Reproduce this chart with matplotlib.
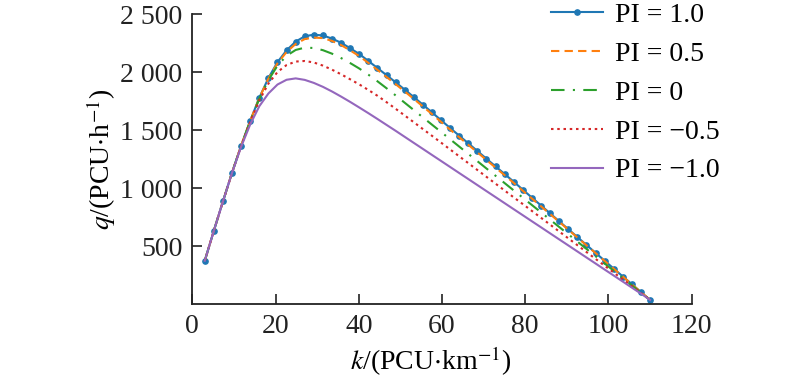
import matplotlib
matplotlib.use("Agg")
import matplotlib.pyplot as plt

plt.rcParams['font.family'] = ['Liberation Serif', 'DejaVu Serif']
plt.rcParams['mathtext.fontset'] = 'stix'
plt.rcParams['font.size'] = 20

k = [3.00, 5.18, 7.37, 9.55, 11.73, 13.92, 16.10, 18.29, 20.47, 22.65,
     24.84, 27.02, 29.20, 31.39, 33.57, 35.76, 37.94, 40.12, 42.31, 44.49,
     46.67, 48.86, 51.04, 53.22, 55.41, 57.59, 59.78, 61.96, 64.14, 66.33,
     68.51, 70.69, 72.88, 75.06, 77.24, 79.43, 81.61, 83.80, 85.98, 88.16,
     90.35, 92.53, 94.71, 96.90, 99.08, 101.27, 103.45, 105.63, 107.82, 110.00]

q_pi_p10 = [373, 632, 885, 1132, 1365, 1580, 1778, 1948, 2085, 2187,
            2262, 2308, 2322, 2315, 2288, 2252, 2205, 2155, 2095, 2034,
            1973, 1911, 1848, 1784, 1718, 1652, 1584, 1517, 1451, 1385,
            1319, 1252, 1186, 1120, 1054, 985, 917, 849, 781, 713,
            645, 577, 509, 441, 373, 305, 237, 170, 102, 35]

q_pi_p05 = [373, 632, 885, 1132, 1365, 1579, 1776, 1943, 2075, 2172,
            2242, 2284, 2297, 2292, 2268, 2232, 2186, 2137, 2078, 2018,
            1957, 1895, 1832, 1768, 1703, 1637, 1570, 1503, 1438, 1372,
            1307, 1241, 1175, 1110, 1044, 976, 909, 842, 775, 708,
            641, 573, 506, 439, 371, 304, 237, 169, 102, 35]

q_pi_0 = [373, 632, 885, 1132, 1365, 1578, 1770, 1930, 2055, 2140,
          2190, 2210, 2207, 2188, 2158, 2120, 2077, 2030, 1977, 1920,
          1860, 1798, 1735, 1672, 1609, 1546, 1483, 1420, 1357, 1294,
          1231, 1168, 1105, 1042, 979, 916, 853, 790, 727, 664,
          601, 538, 475, 412, 349, 286, 223, 160, 97, 35]

q_pi_m05 = [373, 632, 885, 1132, 1362, 1570, 1755, 1900, 2000, 2060,
            2090, 2095, 2082, 2055, 2020, 1980, 1937, 1893, 1845, 1795,
            1740, 1683, 1625, 1567, 1508, 1450, 1391, 1332, 1273, 1214,
            1155, 1096, 1037, 978, 919, 861, 802, 743, 684, 625,
            566, 507, 448, 389, 330, 271, 212, 153, 94, 35]

q_pi_m10 = [373, 632, 885, 1130, 1355, 1548, 1705, 1815, 1892, 1933,
            1945, 1932, 1906, 1872, 1832, 1788, 1742, 1694, 1645, 1595,
            1544, 1493, 1441, 1389, 1337, 1285, 1233, 1181, 1129, 1077,
            1025, 973, 921, 869, 817, 765, 713, 661, 609, 557,
            505, 453, 401, 349, 297, 245, 193, 141, 89, 35]

labels = ["PI = 1.0", "PI = 0.5", "PI = 0", "PI = \u22120.5", "PI = \u22121.0"]
x_ticks = [0, 20, 40, 60, 80, 100, 120]
y_ticks = [500, 1000, 1500, 2000, 2500]
y_ticklabels = ["500", "1 000", "1 500", "2 000", "2 500"]

fig = plt.figure(figsize=(8, 3.79), dpi=100)
ax = fig.add_axes([192.3 / 800, 75 / 379, (691.7 - 192.3) / 800, 290 / 379])

ax.plot(k, q_pi_p10, color='#1f77b4', lw=1.5, marker='o', ms=3.8, label=labels[0])
ax.plot(k, q_pi_p05, color='#ff7f0e', lw=1.5, ls=(0, (4, 2.5)), label=labels[1])
ax.plot(k, q_pi_0, color='#2ca02c', lw=1.5, ls=(0, (6.5, 4, 1, 4)), label=labels[2])
ax.plot(k, q_pi_m05, color='#d62728', lw=1.5, ls=(0, (1.2, 1.8)), label=labels[3])
ax.plot(k, q_pi_m10, color='#9467bd', lw=1.5, label=labels[4])

ax.set_xlim(0, 120)
ax.set_ylim(0, 2500)
ax.set_xticks(x_ticks)
ax.set_yticks(y_ticks)
ax.set_yticklabels(y_ticklabels)
ax.tick_params(direction='in', length=7, width=1.2, labelsize=20, colors='#222222', pad=7)
for s in ['top', 'right']:
    ax.spines[s].set_visible(False)
for s in ['left', 'bottom']:
    ax.spines[s].set_linewidth(1.3)
    ax.spines[s].set_color('#222222')

ax.set_xlabel(r"$k$/(PCU$\cdot$km$^{-1}$)", fontsize=20, labelpad=2)
ax.xaxis.set_label_coords(0.478, -0.14, transform=ax.transAxes)
ax.xaxis.label.set_va('top')
ax.set_ylabel(r"$q$/(PCU$\cdot$h$^{-1}$)", fontsize=20, labelpad=2)

fig.legend(loc='upper left', bbox_to_anchor=(548 / 800, 1.0), frameon=False,
           fontsize=20, handlelength=1.87, handletextpad=0.43, labelspacing=0.48,
           borderaxespad=0, borderpad=0.1)

fig.savefig("out.png", dpi=100)
